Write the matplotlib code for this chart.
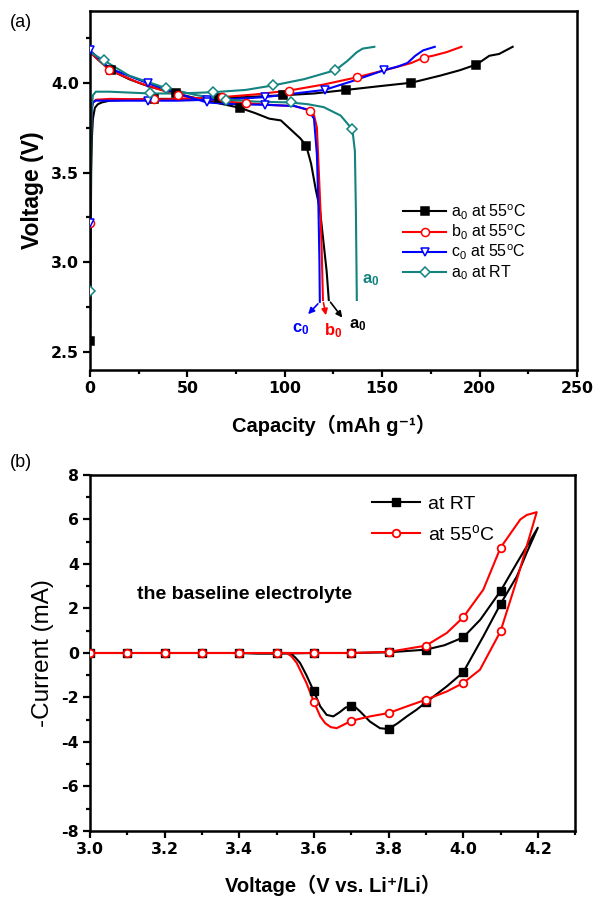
import matplotlib
matplotlib.use("Agg")
import matplotlib.pyplot as plt
from matplotlib.lines import Line2D
from matplotlib.ticker import MultipleLocator

plt.rcParams['font.family'] = ['Liberation Sans', 'DejaVu Sans']
plt.rcParams['mathtext.fontset'] = 'custom'
plt.rcParams['mathtext.rm'] = 'Liberation Sans'
plt.rcParams['mathtext.it'] = 'Liberation Sans:italic'
plt.rcParams['mathtext.bf'] = 'Liberation Sans:bold'

TEAL = '#12837f'

# ---------------- panel (a): charge / discharge curves ----------------
# a0 at 55 C
a55_chg_cap = [0, 0.3, 0.6, 1.0, 1.5, 2.5, 4, 6, 10, 20, 35, 50, 65, 80, 99, 115, 131.6, 148, 165, 180, 190, 198, 201, 205, 210, 217]
a55_chg_v = [2.56, 3.0, 3.5, 3.70, 3.80, 3.86, 3.88, 3.89, 3.90, 3.905, 3.91, 3.91, 3.915, 3.92, 3.93, 3.94, 3.96, 3.98, 4.00, 4.04, 4.07, 4.10, 4.12, 4.15, 4.16, 4.20]
a55_chg_mk_cap = [0, 33, 66, 99, 131.6, 165, 198]
a55_chg_mk_v = [2.56, 3.91, 3.915, 3.93, 3.96, 4.00, 4.10]
a55_dis_cap = [0, 5, 10.6, 20, 30, 44, 60, 77, 85, 92, 98, 104, 108, 111, 113.5, 116, 118, 120, 121.5, 122.6]
a55_dis_v = [4.17, 4.12, 4.07, 4.02, 3.98, 3.94, 3.90, 3.86, 3.83, 3.80, 3.79, 3.73, 3.69, 3.65, 3.55, 3.40, 3.30, 3.10, 2.95, 2.79]
a55_dis_mk_cap = [10.6, 44, 77, 111]
a55_dis_mk_v = [4.07, 3.94, 3.86, 3.65]

# b0 at 55 C
b55_chg_cap = [0, 0.3, 0.8, 1.5, 3, 10, 33, 50, 68, 85, 102, 120, 137, 155, 165, 171.4, 176, 183, 190.7]
b55_chg_v = [3.22, 3.6, 3.85, 3.89, 3.905, 3.91, 3.907, 3.91, 3.92, 3.935, 3.956, 3.99, 4.03, 4.08, 4.11, 4.14, 4.15, 4.17, 4.20]
b55_chg_mk_cap = [0, 33, 68, 102, 137, 171.4]
b55_chg_mk_v = [3.22, 3.907, 3.92, 3.956, 4.03, 4.14]
b55_dis_cap = [0, 10, 25, 45, 60, 80, 95, 105, 113, 115, 116.5, 117.5, 118.3, 119, 119.6]
b55_dis_v = [4.17, 4.07, 4.00, 3.93, 3.905, 3.886, 3.875, 3.87, 3.845, 3.82, 3.75, 3.50, 3.30, 3.05, 2.79]
b55_dis_mk_cap = [10, 45, 80, 113]
b55_dis_mk_v = [4.07, 3.93, 3.886, 3.845]

# c0 at 55 C
c55_chg_cap = [0, 0.3, 0.8, 1.5, 3, 10, 30, 45, 60, 75, 90, 105, 120.4, 135, 151, 158, 163, 167, 171, 177]
c55_chg_v = [3.22, 3.6, 3.85, 3.89, 3.90, 3.90, 3.90, 3.90, 3.905, 3.91, 3.92, 3.94, 3.96, 4.01, 4.07, 4.09, 4.11, 4.15, 4.18, 4.20]
c55_chg_mk_cap = [0, 30, 60, 90, 120.4, 151]
c55_chg_mk_v = [3.22, 3.90, 3.905, 3.92, 3.96, 4.07]
c55_dis_cap = [0, 10, 30, 45, 60, 75, 90, 105, 112, 115, 116.5, 117.3, 117.8, 118]
c55_dis_v = [4.18, 4.08, 3.996, 3.94, 3.89, 3.88, 3.877, 3.87, 3.85, 3.80, 3.60, 3.30, 3.00, 2.78]
c55_dis_mk_cap = [0, 30, 60, 90]
c55_dis_mk_v = [4.18, 3.996, 3.89, 3.877]

# a0 at RT
art_chg_cap = [0, 0.3, 0.8, 1.5, 3, 10, 31, 45, 63, 80, 94, 110, 126, 132, 137, 140, 146]
art_chg_v = [2.84, 3.4, 3.85, 3.93, 3.95, 3.95, 3.94, 3.94, 3.947, 3.96, 3.985, 4.02, 4.07, 4.12, 4.17, 4.19, 4.20]
art_chg_mk_cap = [0, 31, 63, 94, 126]
art_chg_mk_v = [2.84, 3.94, 3.947, 3.985, 4.07]
art_dis_cap = [0, 7, 20, 39, 55, 70, 85, 103, 112, 120, 128.7, 134.7, 136, 136.5, 137]
art_dis_v = [4.17, 4.125, 4.04, 3.97, 3.93, 3.906, 3.895, 3.89, 3.88, 3.864, 3.817, 3.74, 3.62, 3.30, 2.79]
art_dis_mk_cap = [7, 39, 70, 103, 134.7]
art_dis_mk_v = [4.125, 3.97, 3.906, 3.89, 3.74]

# ---------------- panel (b): CV curves ----------------
rt_v = [3.0, 3.1, 3.2, 3.3, 3.4, 3.45, 3.5, 3.6, 3.7, 3.8, 3.9, 3.95, 4.0, 4.046, 4.1, 4.144, 4.2,
        4.17, 4.144, 4.1, 4.054, 4.0, 3.956, 3.9, 3.875, 3.849, 3.825, 3.8, 3.777, 3.75, 3.724, 3.712,
        3.7, 3.685, 3.67, 3.652, 3.634, 3.617, 3.6, 3.58, 3.563, 3.55, 3.536, 3.5]
rt_i = [0, 0, 0, 0, 0, -0.03, -0.03, 0, 0, 0.03, 0.15, 0.35, 0.70, 1.5, 2.78, 4.05, 5.63,
        4.5, 3.45, 2.2, 0.75, -0.87, -1.5, -2.22, -2.55, -2.85, -3.15, -3.42, -3.38, -3.08, -2.63, -2.45,
        -2.40, -2.45, -2.65, -2.85, -2.78, -2.4, -1.73, -1.0, -0.45, -0.2, 0, 0]
rt_mk_v = [3.0, 3.1, 3.2, 3.3, 3.4, 3.5, 3.6, 3.7, 3.8, 3.9, 4.0, 4.1, 4.1, 4.0, 3.9, 3.8, 3.7, 3.6]
rt_mk_i = [0, 0, 0, 0, 0, 0, 0, 0, 0.03, 0.15, 0.70, 2.78, 2.2, -0.87, -2.22, -3.42, -2.40, -1.73]

h55_v = [3.0, 3.1, 3.2, 3.3, 3.4, 3.5, 3.6, 3.7, 3.8, 3.9, 3.956, 4.0, 4.054, 4.1, 4.153, 4.17, 4.197,
         4.144, 4.1, 4.045, 4.0, 3.956, 3.9, 3.849, 3.8, 3.75, 3.7, 3.679, 3.661, 3.645, 3.63, 3.617,
         3.6, 3.58, 3.567, 3.554, 3.54, 3.527, 3.5]
h55_i = [0, 0, 0, 0, 0, 0, 0, 0, 0.05, 0.33, 0.9, 1.60, 2.85, 4.73, 6.0, 6.2, 6.33,
         3.3, 0.97, -0.75, -1.35, -1.73, -2.1, -2.4, -2.7, -2.85, -3.05, -3.23, -3.38, -3.33, -3.15, -2.85,
         -2.2, -1.35, -0.9, -0.45, -0.15, 0, 0]
h55_mk_v = [3.0, 3.1, 3.2, 3.3, 3.4, 3.5, 3.6, 3.7, 3.8, 3.9, 4.0, 4.1, 4.1, 4.0, 3.9, 3.8, 3.7, 3.6]
h55_mk_i = [0, 0, 0, 0, 0, 0, 0, 0, 0.05, 0.33, 1.60, 4.73, 0.97, -1.35, -2.1, -2.7, -3.05, -2.2]

TICKFONT = dict(family='DejaVu Sans', weight='bold', size=11.3)


def style_axes(ax):
    for s in ax.spines.values():
        s.set_linewidth(1.8)
    ax.tick_params(which='both', direction='out', top=False, right=False, width=1.6)
    ax.tick_params(which='major', length=5, pad=3)
    ax.tick_params(which='minor', length=3)
    for lab in ax.get_xticklabels() + ax.get_yticklabels():
        lab.set_fontproperties(TICKFONT)


fig = plt.figure(figsize=(5.96, 9.07), dpi=100)

# ---------------- panel (a) ----------------
ax1 = fig.add_axes([0.151, 0.592, 0.817, 0.396])
series_a = [
    (a55_chg_cap, a55_chg_v, a55_chg_mk_cap, a55_chg_mk_v, a55_dis_cap, a55_dis_v, a55_dis_mk_cap, a55_dis_mk_v,
     'black', 's', 'black', r'a$_0$ at 55$^{\rm o}$C'),
    (b55_chg_cap, b55_chg_v, b55_chg_mk_cap, b55_chg_mk_v, b55_dis_cap, b55_dis_v, b55_dis_mk_cap, b55_dis_mk_v,
     'red', 'o', 'white', r'b$_0$ at 55$^{\rm o}$C'),
    (c55_chg_cap, c55_chg_v, c55_chg_mk_cap, c55_chg_mk_v, c55_dis_cap, c55_dis_v, c55_dis_mk_cap, c55_dis_mk_v,
     'blue', 'v', 'white', r'c$_0$ at 55$^{\rm o}$C'),
    (art_chg_cap, art_chg_v, art_chg_mk_cap, art_chg_mk_v, art_dis_cap, art_dis_v, art_dis_mk_cap, art_dis_mk_v,
     TEAL, 'D', 'white', r'a$_0$ at RT'),
]
handles = []
for (cx, cy, cmx, cmy, dx, dy, dmx, dmy, col, mk, fc, lab) in series_a:
    ms = 5.8 if mk != 'D' else 5.3
    ax1.plot(cx, cy, color=col, lw=1.5, zorder=2)
    ax1.plot(dx, dy, color=col, lw=1.5, zorder=2)
    ax1.plot(cmx, cmy, ls='none', marker=mk, ms=ms, mfc=fc, mec=col, mew=1.1, zorder=3)
    ax1.plot(dmx, dmy, ls='none', marker=mk, ms=ms, mfc=fc, mec=col, mew=1.1, zorder=3)
    handles.append(Line2D([], [], color=col, lw=1.5, marker=mk, ms=ms, mfc=fc, mec=col, mew=1.1, label=lab))

ax1.set_xlim(0, 250)
ax1.set_ylim(2.4, 4.4)
ax1.xaxis.set_minor_locator(MultipleLocator(25))
ax1.yaxis.set_minor_locator(MultipleLocator(0.25))
ax1.set_yticks([2.5, 3.0, 3.5, 4.0])
ax1.set_yticklabels(['2.5', '3.0', '3.5', '4.0'])
ax1.set_xticks([0, 50, 100, 150, 200, 250])
ax1.set_xticklabels(['0', '50', '100', '150', '200', '250'])
style_axes(ax1)
ax1.legend(handles=handles, loc='upper left', bbox_to_anchor=(0.63, 0.485), frameon=False,
           fontsize=11.5, handlelength=2.7, handletextpad=0.3, labelspacing=0.07, borderaxespad=0)

# arrows and curve labels
ax1.annotate('', xy=(111, 2.70), xytext=(118, 2.78),
             arrowprops=dict(arrowstyle='-|>', color='blue', lw=1.2, mutation_scale=9))
ax1.annotate('', xy=(121.4, 2.69), xytext=(119.6, 2.79),
             arrowprops=dict(arrowstyle='-|>', color='red', lw=1.2, mutation_scale=9))
ax1.annotate('', xy=(130.4, 2.68), xytext=(122.6, 2.79),
             arrowprops=dict(arrowstyle='-|>', color='black', lw=1.2, mutation_scale=9))
ax1.text(108, 2.63, r'$\mathbf{c_0}$', color='blue', fontsize=12, ha='center', va='center')
ax1.text(125, 2.62, r'$\mathbf{b_0}$', color='red', fontsize=12, ha='center', va='center')
ax1.text(137.5, 2.65, r'$\mathbf{a_0}$', color='black', fontsize=12, ha='center', va='center')
ax1.text(144, 2.90, r'$\mathbf{a_0}$', color=TEAL, fontsize=12, ha='center', va='center')

ax1.set_ylabel('Voltage (V)', fontsize=16.5, fontweight='bold', labelpad=5)
ax1.set_xlabel('Capacity（mAh g⁻¹）', fontsize=14.5, fontweight='bold', labelpad=13,
               family=['Liberation Sans', 'Noto Sans CJK SC', 'DejaVu Sans'])
fig.text(0.017, 0.975, '(a)', fontsize=13, ha='left', va='center')

# ---------------- panel (b) ----------------
ax2 = fig.add_axes([0.151, 0.0838, 0.814, 0.3925])
ax2.plot(rt_v, rt_i, color='black', lw=1.5, zorder=2)
ax2.plot(rt_mk_v, rt_mk_i, ls='none', marker='s', ms=5.3, mfc='black', mec='black', zorder=3)
ax2.plot(h55_v, h55_i, color='red', lw=1.5, zorder=2)
ax2.plot(h55_mk_v, h55_mk_i, ls='none', marker='o', ms=5.5, mfc='white', mec='red', mew=1.3, zorder=4)
h_rt = Line2D([], [], color='black', lw=1.5, marker='s', ms=5.3, mfc='black', mec='black', label='at RT')
h_55 = Line2D([], [], color='red', lw=1.5, marker='o', ms=5.5, mfc='white', mec='red', mew=1.3,
              label=r'at 55$^{\rm o}$C')
ax2.legend(handles=[h_rt, h_55], loc='upper left', bbox_to_anchor=(0.565, 0.965), frameon=False,
           fontsize=14, handlelength=2.5, handletextpad=0.4, labelspacing=0.55, borderaxespad=0)

ax2.set_xlim(3.0, 4.3)
ax2.set_ylim(-8, 8)
ax2.set_xticks([3.0, 3.2, 3.4, 3.6, 3.8, 4.0, 4.2])
ax2.set_xticklabels(['3.0', '3.2', '3.4', '3.6', '3.8', '4.0', '4.2'])
ax2.xaxis.set_minor_locator(MultipleLocator(0.1))
ax2.set_yticks([-8, -6, -4, -2, 0, 2, 4, 6, 8])
ax2.set_yticklabels(['-8', '-6', '-4', '-2', '0', '2', '4', '6', '8'])
ax2.yaxis.set_minor_locator(MultipleLocator(1))
style_axes(ax2)
ax2.text(3.125, 2.63, 'the baseline electrolyte', fontsize=14, fontweight='bold', ha='left', va='center')

ax2.set_ylabel('-Current (mA)', fontsize=17.5, labelpad=5)
ax2.set_xlabel('Voltage（V vs. Li⁺/Li）', fontsize=14.5, fontweight='bold', labelpad=13,
               family=['Liberation Sans', 'Noto Sans CJK SC', 'DejaVu Sans'])
fig.text(0.017, 0.49, '(b)', fontsize=13, ha='left', va='center')

fig.savefig('out.png', dpi=100)
